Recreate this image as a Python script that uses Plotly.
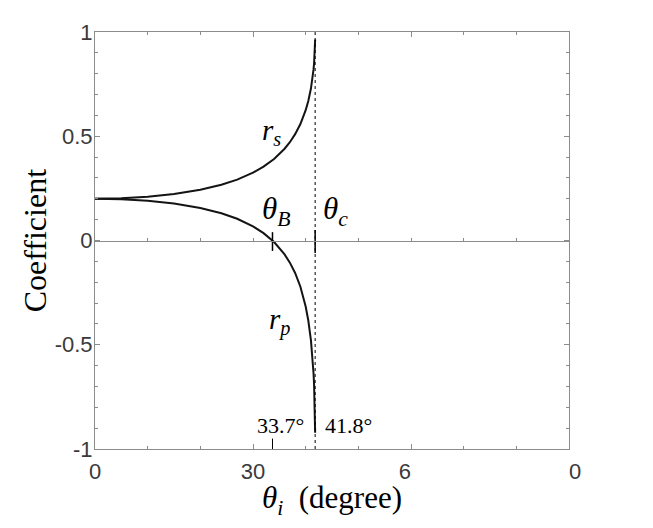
import plotly.graph_objects as go

# incidence angle (deg) and Fresnel coefficients
theta_deg = [0, 5, 10, 15, 20, 24, 27, 30, 32, 34, 36, 37, 38, 39, 40,
             40.5, 41, 41.3, 41.5, 41.6, 41.7, 41.75, 41.8]
r_s = [0.2, 0.2023, 0.2095, 0.2225, 0.2430, 0.2673, 0.2921, 0.3252, 0.3541,
       0.3910, 0.4401, 0.4715, 0.5100, 0.5587, 0.6250, 0.6695, 0.7287,
       0.7773, 0.8216, 0.8507, 0.8893, 0.9168, 0.9644]
r_p = [0.2, 0.1977, 0.1905, 0.1773, 0.1562, 0.1308, 0.1043, 0.0679, 0.0353,
       -0.0075, -0.0668, -0.1062, -0.1559, -0.2218, -0.3164, -0.3837,
       -0.4781, -0.5602, -0.6389, -0.6927, -0.7671, -0.8221, -0.9217]

brewster_deg = 33.7
critical_deg = 41.8

x_tickvals = [0, 30, 60, 90]
x_ticktext = ["0", "30", "6\u2007", "\u20070"]
y_tickvals = [-1, -0.5, 0, 0.5, 1]
y_ticktext = ["-1", "-0.5", "0", "0.5", "1"]

AXIS_GRAY = "#8c8c8c"
SERIF = "Liberation Serif"

fig = go.Figure()

fig.add_trace(go.Scatter(x=theta_deg, y=r_s, mode="lines",
                         line=dict(color="#141414", width=2)))
fig.add_trace(go.Scatter(x=theta_deg, y=r_p, mode="lines",
                         line=dict(color="#141414", width=2)))

# critical angle dotted line
fig.add_trace(go.Scatter(x=[critical_deg, critical_deg], y=[-1, 1], mode="lines",
                         line=dict(color="black", width=1, dash="dot")))
# markers at Brewster and critical angle on the zero line
fig.add_trace(go.Scatter(x=[brewster_deg, brewster_deg], y=[-0.05, 0.04], mode="lines",
                         line=dict(color="black", width=1.5)))
fig.add_trace(go.Scatter(x=[critical_deg, critical_deg], y=[-0.06, 0.05], mode="lines",
                         line=dict(color="black", width=1.5)))
fig.add_trace(go.Scatter(x=[brewster_deg, brewster_deg], y=[-1, -0.95], mode="lines",
                         line=dict(color="black", width=1)))

notes = [
    (33.6, 0.52, "<i>r</i><sub><i>s</i></sub>", 29, "center"),
    (35.1, -0.39, "<i>r</i><sub><i>p</i></sub>", 29, "center"),
    (34.3, 0.14, "<i>θ</i><sub><i>B</i></sub>", 31, "center"),
    (45.6, 0.14, "<i>θ</i><sub><i>c</i></sub>", 31, "center"),
    (40.0, -0.885, "33.7°", 22, "right"),
    (43.3, -0.885, "41.8°", 22, "left"),
]
for x, y, txt, size, anchor in notes:
    fig.add_annotation(x=x, y=y, text=txt, showarrow=False, xanchor=anchor,
                       font=dict(family=SERIF, size=size, color="black"))

fig.add_annotation(x=-0.127, y=0.5, xref="paper", yref="paper", text="Coefficient",
                   textangle=-90, showarrow=False, xanchor="center", yanchor="middle",
                   font=dict(family=SERIF, size=32, color="black"))
fig.add_annotation(x=0.5, y=-0.122, xref="paper", yref="paper",
                   text="<i>θ</i><sub><i>i</i></sub>\u00a0\u00a0(degree)", showarrow=False,
                   xanchor="center", yanchor="middle",
                   font=dict(family=SERIF, size=31, color="black"))

fig.update_layout(
    width=645, height=520,
    margin=dict(l=87, r=84, t=24, b=79),
    paper_bgcolor="white", plot_bgcolor="white",
    showlegend=False,
    xaxis=dict(range=[0, 90], tickmode="array", tickvals=x_tickvals, ticktext=x_ticktext,
               ticks="inside", ticklen=5, tickcolor=AXIS_GRAY, ticklabelstandoff=3,
               minor=dict(tick0=0, dtick=10, ticks="inside", ticklen=3, tickcolor=AXIS_GRAY),
               showline=True, linecolor=AXIS_GRAY, linewidth=1, mirror="ticks",
               showgrid=False, zeroline=False,
               tickfont=dict(family="Liberation Sans", size=22, color="#3a3a3a")),
    xaxis2=dict(range=[0, 90], overlaying="x", anchor="free", position=0.5,
                side="bottom", showticklabels=False,
                tickmode="linear", tick0=0, dtick=10,
                ticks="inside", ticklen=3, tickcolor=AXIS_GRAY,
                showline=True, linecolor=AXIS_GRAY, linewidth=1,
                showgrid=False, zeroline=False),
    yaxis=dict(range=[-1, 1], tickmode="array", tickvals=y_tickvals, ticktext=y_ticktext,
               ticks="inside", ticklen=5, tickcolor=AXIS_GRAY, ticklabelstandoff=-3,
               minor=dict(tick0=0, dtick=0.1, ticks="inside", ticklen=3, tickcolor=AXIS_GRAY),
               showline=True, linecolor=AXIS_GRAY, linewidth=1, mirror="ticks",
               showgrid=False, zeroline=False,
               tickfont=dict(family="Liberation Sans", size=22, color="#3a3a3a")),
)

# empty trace so the zero-line axis is drawn
fig.add_trace(go.Scatter(x=[0], y=[0], xaxis="x2", mode="markers",
                         marker=dict(size=0, opacity=0), hoverinfo="skip"))

fig.write_html("out.html")
